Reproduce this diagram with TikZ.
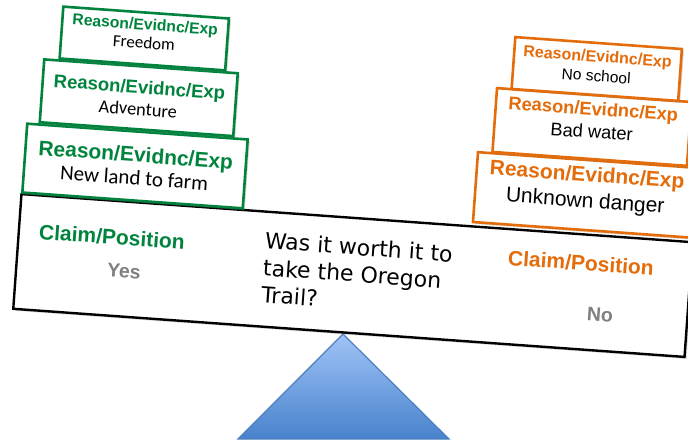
\documentclass[tikz,border=0pt]{standalone}
\usepackage{fontspec}
\setmainfont{Liberation Sans}
\newfontfamily\calibri{Carlito}
\newfontfamily\handfont{DejaVu Sans}
\usetikzlibrary{shadows}

\definecolor{claimgreen}{RGB}{0,132,61}
\definecolor{claimorange}{RGB}{228,108,10}
\definecolor{answergray}{RGB}{128,128,128}
\definecolor{fulcrumtop}{RGB}{160,196,246}
\definecolor{fulcrumbot}{RGB}{72,130,205}
\definecolor{fulcrumedge}{RGB}{79,127,190}

\newcommand{\reasonhead}[1]{\textcolor{#1}{\bfseries Reason/Evidnc/Exp}}

\begin{document}
\begin{tikzpicture}[x=1pt,y=-1pt,
  tilt/.style={rotate=-4.1},
  softshadow/.style={drop shadow={opacity=0.3,shadow xshift=2pt,shadow yshift=-2pt}},
  beambox/.style={tilt,draw=black,line width=2.4pt,fill=white,softshadow,
    minimum width=673pt,minimum height=115pt},
  greenbox/.style={tilt,draw=claimgreen,line width=2.6pt,fill=white,softshadow,
    align=center,inner sep=0pt},
  orangebox/.style={tilt,draw=claimorange,line width=2.6pt,fill=white,softshadow,
    align=center,inner sep=0pt},
  claimtext/.style={tilt,font=\fontsize{21}{24}\selectfont\bfseries},
  answertext/.style={tilt,text=answergray,font=\fontsize{19.5}{22}\selectfont\bfseries},
]
\useasboundingbox (0,0) rectangle (688,442);

% fulcrum
\draw[top color=fulcrumtop,bottom color=fulcrumbot,draw=fulcrumedge,line width=1.2pt]
  (343,334) -- (449,439) -- (238,439) -- cycle;

% beam
\node[beambox] (beam) at (353,275.5) {};
\node[claimtext,text=claimgreen] (claimyes) at (112,237) {Claim/Position};
\node[answertext] (yes) at (124,271) {Yes};
\node[claimtext,text=claimorange] (claimno) at (581,263) {Claim/Position};
\node[answertext] (no) at (600,315) {No};
\node[tilt,align=left,font=\handfont\fontsize{22}{27}\selectfont] (question) at (357,274)
  {Was it worth it to\\take the Oregon\\Trail?};

% yes side
\node[greenbox,minimum width=221pt,minimum height=69pt,font=\fontsize{21}{23}\selectfont]
  (farm) at (135,166) {\reasonhead{claimgreen}\\{\calibri New land to farm}};
\node[greenbox,minimum width=194pt,minimum height=63pt,font=\fontsize{18.5}{22}\selectfont]
  (adventure) at (138.75,97.75) {\reasonhead{claimgreen}\\{\calibri\fontsize{18.4}{22}\selectfont Adventure}};
\node[greenbox,minimum width=166pt,minimum height=52pt,font=\fontsize{15.7}{18.5}\selectfont,
  text depth=10pt] (freedom) at (144.25,38.5)
  {\reasonhead{claimgreen}\\{\calibri\fontsize{17}{18.5}\selectfont Freedom}};

% no side
\node[orangebox,minimum width=221pt,minimum height=70pt,font=\fontsize{21}{26}\selectfont,
  text depth=16pt] (danger) at (585.7,195) {\reasonhead{claimorange}\\Unknown danger};
\node[orangebox,minimum width=195pt,minimum height=64pt,font=\fontsize{18.3}{23}\selectfont,
  text depth=14pt] (water) at (592,127) {\reasonhead{claimorange}\\Bad water};
\node[orangebox,minimum width=167pt,minimum height=52pt,font=\fontsize{16}{19.5}\selectfont,
  text depth=6pt] (school) at (596.75,69)
  {\reasonhead{claimorange}\\{\fontsize{15.5}{19.5}\selectfont No school}};
\end{tikzpicture}
\end{document}
